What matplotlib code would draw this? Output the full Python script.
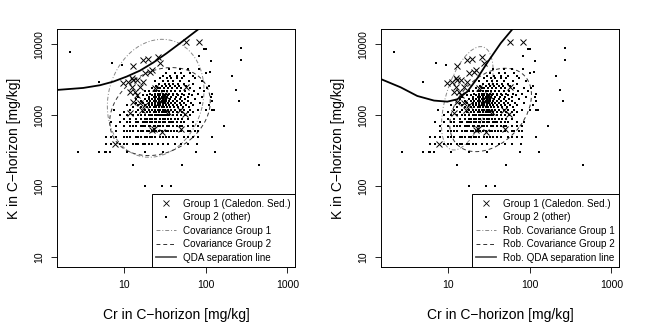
import numpy as np
import matplotlib.pyplot as plt
from matplotlib.patches import Ellipse
from matplotlib.lines import Line2D

plt.rcParams['font.family'] = ['Liberation Sans', 'DejaVu Sans']

# Group 1 (Caledonian sediments): Cr, K in mg/kg
cr1 = [58, 84, 13, 17.3, 19.8, 26.3, 28, 20.8, 18, 21.8, 9.8, 11.3, 12.4, 13.0,
       14.3, 17.3, 15.7, 12.4, 11.8, 13.6, 14.3, 13, 15.7, 18, 11.8, 24, 31, 30,
       33, 58, 56, 49, 22, 23, 29, 7.8, 16.5, 26, 35, 50]
k1 = [10900, 10900, 4950, 6000, 6150, 6700, 5400, 4120, 3900, 4350, 2820, 2980,
      3320, 3140, 3140, 2980, 2530, 2530, 2150, 2150, 1930, 1560, 1480, 1400,
      1090, 2400, 1930, 1650, 1840, 2530, 1040, 1190, 620, 640, 590, 400, 1190,
      1500, 1100, 650]

# Group 2 (other): K values come in steps, Cr values per K step
k2_levels = [100, 200, 300, 400, 500, 600, 700, 800, 900, 1000, 1100, 1200, 1300,
             1400, 1500, 1600, 1700, 1800, 1900, 2000, 2200, 2400, 2600, 2800,
             3000, 3300, 3600, 4000, 4500]
cr2_rows = [
    [18, 29, 38],
    [13, 52, 450],
    [2.7, 4.9, 5.8, 6.1, 6.8, 11, 18, 30, 77, 131],
    [6.1, 7, 9, 10, 11, 13, 14, 15, 17, 18, 20, 22, 26, 30, 35, 42, 50, 60, 78],
    [6, 7, 8, 10, 11, 12, 14, 15, 16, 18, 19, 21, 22, 24, 28, 30, 33, 36, 40,
     45, 55, 60, 70, 80, 118],
    [8, 10, 11, 12, 13, 15, 16, 17, 19, 20, 22, 23, 25, 27, 29, 33, 35, 38, 41,
     45, 50, 60, 65, 75, 80],
    [8, 10, 12, 13, 14, 16, 17, 18, 20, 21, 23, 24, 26, 28, 30, 34, 36, 40, 44,
     48, 52, 60, 70, 80],
    [7, 9, 11, 12, 14, 15, 17, 18, 19, 21, 22, 24, 25, 27, 28, 30, 32, 36, 38,
     40, 45, 50, 55, 70, 85],
    [10, 12, 14, 16, 18, 19, 21, 22, 24, 25, 28, 30, 32, 35, 38, 42, 46, 52, 60],
    [9, 11, 13, 15, 16, 18, 20, 21, 22, 24, 25, 26, 28, 29, 30, 32, 34, 36, 40,
     44, 50, 56, 65],
    [10, 14, 17, 19, 21, 23, 25, 27, 29, 31, 33, 36, 40, 45, 52, 60, 70],
    [7.5, 12, 15, 18, 20, 22, 24, 26, 28, 30, 32, 35, 38, 42, 48, 55, 65, 80,
     100, 120, 125],
    [13, 16, 19, 21, 23, 25, 27, 29, 31, 34, 37, 41, 46, 53, 62],
    [11, 15, 18, 20, 22, 24, 26, 28, 30, 33, 36, 40, 45, 50, 58, 70, 110],
    [14, 17, 20, 22, 24, 26, 28, 30, 32, 35, 38, 42, 48, 55, 66, 85],
    [16, 19, 21, 23, 25, 27, 29, 31, 33, 36, 40, 45, 52, 60, 120],
    [14, 18, 20, 22, 24, 26, 28, 30, 33, 37, 42, 48, 56, 75],
    [15, 20, 23, 25, 27, 29, 31, 34, 38, 43, 50, 60, 90, 115],
    [17, 19, 22, 24, 26, 28, 30, 32, 35, 40, 46, 54, 68],
    [21, 24, 26, 28, 30, 33, 36, 40, 45, 52, 62, 80, 120],
    [18, 20, 23, 25, 27, 29, 31, 34, 38, 42, 48, 56, 72, 95],
    [22, 26, 28, 31, 35, 39, 44, 50, 65, 85, 105],
    [25, 29, 33, 37, 42, 47, 58, 110],
    [27, 32, 36, 40, 46, 55, 70],
    [24, 30, 35, 40, 48, 62, 90],
    [28, 34, 38, 45, 52, 75],
    [30, 37, 44, 55, 70],
    [33, 42, 50, 65, 100],
    [36, 48, 60, 82],
]
cr2_extra = [2.2, 7.1, 9.4, 5, 95, 102, 270, 84, 272, 116, 112, 210, 233, 253, 170]
k2_extra = [7700, 5400, 5100, 2900, 8600, 8600, 8800, 6900, 6000, 5900, 4040,
            3600, 2300, 1610, 700]

# covariance ellipses in log10 units: (centre x, centre y, var x, var y, cov)
ell_classic = [(1.388, 3.239, 0.35, 0.69, 0.066),
               (1.441, 3.052, 0.379, 0.384, 0.0885)]
ell_robust = [(1.237, 3.239, 0.10, 0.53, 0.119),
              (1.522, 3.075, 0.25, 0.345, 0.106)]

# separation lines (log10 Cr, log10 K)
qda_x = [0.184, 0.502, 0.706, 0.869, 1.033, 1.196, 1.359, 1.522, 1.686, 1.910]
qda_y = [3.357, 3.385, 3.423, 3.474, 3.545, 3.629, 3.742, 3.873, 4.014, 4.211]
rqda_x = [0.184, 0.420, 0.624, 0.829, 0.992, 1.114, 1.237, 1.359, 1.482, 1.645, 1.788]
rqda_y = [3.507, 3.394, 3.272, 3.207, 3.192, 3.225, 3.333, 3.521, 3.742, 4.014, 4.211]

cr2 = [c for row in cr2_rows for c in row] + cr2_extra
k2 = [k for k, row in zip(k2_levels, cr2_rows) for c in row] + k2_extra

x1, y1 = np.log10(cr1), np.log10(k1)
x2, y2 = np.log10(cr2), np.log10(k2)


def cov_ellipse(ax, e, **kw):
    cx, cy, vx, vy, c = e
    vals, vecs = np.linalg.eigh(np.array([[vx, c], [c, vy]]))
    ang = np.degrees(np.arctan2(vecs[1, 1], vecs[0, 1]))
    ax.add_patch(Ellipse((cx, cy), 2 * np.sqrt(vals[1]), 2 * np.sqrt(vals[0]),
                         angle=ang, fill=False, **kw))


fig = plt.figure(figsize=(6.48, 3.24), dpi=100)
panels = [(57, ell_classic, qda_x, qda_y,
           ['Covariance Group 1', 'Covariance Group 2', 'QDA separation line']),
          (381, ell_robust, rqda_x, rqda_y,
           ['Rob. Covariance Group 1', 'Rob. Covariance Group 2',
            'Rob. QDA separation line'])]

for left, ells, lx, ly, labs in panels:
    ax = fig.add_axes([left / 648, 57 / 324, 238 / 648, 238 / 324])
    ax.plot(x2, y2, 's', color='black', markersize=1.8, markeredgewidth=0)
    ax.plot(x1, y1, 'x', color='black', markersize=5, markeredgewidth=0.7)
    cov_ellipse(ax, ells[0], edgecolor='#888888', linestyle=(0, (4, 2, 1, 2)), linewidth=0.7)
    cov_ellipse(ax, ells[1], edgecolor='#333333', linestyle=(0, (4, 3)), linewidth=0.7)
    ax.plot(lx, ly, color='black', linewidth=1.3)

    ax.set_xlim(0.18, 3.094)
    ax.set_ylim(0.863, 4.215)
    ax.set_xticks([1, 2, 3])
    ax.set_xticklabels(['10', '100', '1000'])
    ax.set_yticks([1, 2, 3, 4])
    ax.set_yticklabels(['10', '100', '1000', '10000'], rotation=90, va='center')
    ax.tick_params(direction='out', length=4, width=0.6, labelsize=7.5, pad=5)
    for s in ax.spines.values():
        s.set_linewidth(0.7)
    ax.set_xlabel('Cr in C\u2212horizon [mg/kg]', fontsize=10, labelpad=13)
    ax.set_ylabel('K in C\u2212horizon [mg/kg]', fontsize=10, labelpad=10)

    handles = [Line2D([], [], marker='x', linestyle='none', color='black', markersize=4, markeredgewidth=0.6),
               Line2D([], [], marker='s', linestyle='none', color='black', markersize=1.6, markeredgewidth=0),
               Line2D([], [], color='#888888', linestyle=(0, (4, 2, 1, 2)), linewidth=0.7),
               Line2D([], [], color='#333333', linestyle=(0, (4, 3)), linewidth=0.7),
               Line2D([], [], color='#555555', linewidth=1.3)]
    leg = ax.legend(handles, ['Group 1 (Caledon. Sed.)', 'Group 2 (other)'] + labs,
                    loc='lower right', borderaxespad=0, fancybox=False, framealpha=1,
                    edgecolor='black', fontsize=7.1, handlelength=2.0, labelspacing=0.35,
                    borderpad=0.45, handletextpad=0.7)
    leg.get_frame().set_linewidth(0.7)

fig.savefig('out.png', dpi=100)
